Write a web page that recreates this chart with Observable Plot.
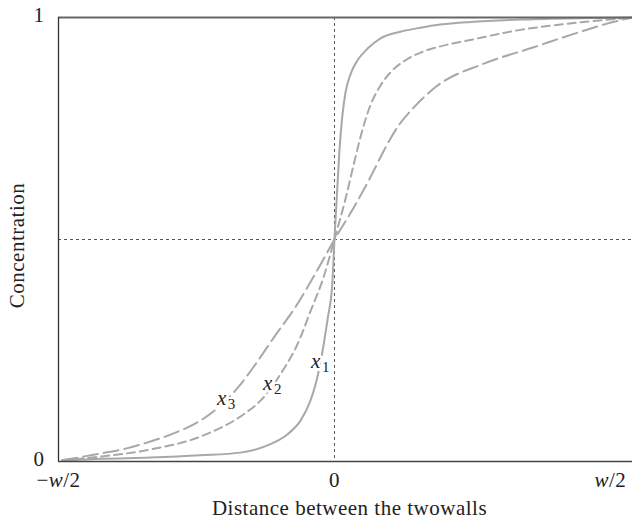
<!DOCTYPE html>
<html>
<head>
<meta charset="utf-8">
<script src="https://cdn.jsdelivr.net/npm/d3@7"></script>
<script src="https://cdn.jsdelivr.net/npm/@observablehq/plot@0.6"></script>
<style>
  body { margin: 0; background: #fff; }
  #chart svg { font-family: "Liberation Serif", "DejaVu Serif", serif; }
</style>
</head>
<body>
<div id="chart"></div>
<script>
// Concentration profiles across the channel; the walls sit at ±w/2 (±1),
// and the drawing area runs a little past the right wall.
const x1Pos  = [-0.986, -0.848, -0.667, -0.486, -0.341, -0.232, -0.171, -0.123, -0.087, -0.065, -0.039, -0.024, -0.008, 0, 0.009, 0.018, 0.028, 0.040, 0.058, 0.083, 0.120, 0.167, 0.239, 0.312, 0.384, 0.493, 0.721, 0.964, 1.08];
const x1Conc = [0.002, 0.006, 0.009, 0.014, 0.020, 0.039, 0.061, 0.092, 0.137, 0.182, 0.264, 0.324, 0.399, 0.5, 0.601, 0.700, 0.775, 0.831, 0.872, 0.903, 0.930, 0.953, 0.968, 0.977, 0.984, 0.990, 0.996, 0.999, 1];

const x2Pos  = [-0.986, -0.848, -0.667, -0.486, -0.330, -0.268, -0.185, -0.134, -0.087, -0.040, 0, 0.043, 0.069, 0.094, 0.130, 0.167, 0.210, 0.261, 0.312, 0.384, 0.482, 0.663, 0.844, 1.025, 1.08];
const x2Conc = [0.003, 0.011, 0.027, 0.056, 0.106, 0.137, 0.207, 0.264, 0.338, 0.414, 0.5, 0.599, 0.667, 0.730, 0.802, 0.847, 0.881, 0.905, 0.921, 0.935, 0.948, 0.971, 0.986, 0.997, 1];

const x3Pos  = [-0.986, -0.848, -0.757, -0.667, -0.576, -0.486, -0.413, -0.341, -0.292, -0.220, -0.135, -0.063, 0, 0.070, 0.130, 0.179, 0.227, 0.287, 0.370, 0.541, 0.722, 0.862, 0.975, 1.08];
const x3Conc = [0.003, 0.018, 0.029, 0.045, 0.065, 0.092, 0.126, 0.173, 0.214, 0.279, 0.354, 0.430, 0.5, 0.572, 0.640, 0.700, 0.752, 0.797, 0.845, 0.896, 0.933, 0.962, 0.984, 1];

// Curve labels (x with a subscript) and where they sit
const labelSubs = ["1", "2", "3"];
const labelPos  = [-0.067, -0.241, -0.408];
const labelConc = [0.225, 0.176, 0.142];

// Axis ticks
const xTicks = [-1, 0, 1];
const xTickLabels = ["\u2212w/2", "0", "w/2"];
const yTicks = [0, 1];
const yTickLabels = ["0", "1"];

const xLabel = "Distance between the twowalls";
const yLabel = "Concentration";

const series = [
  {pos: x1Pos, conc: x1Conc, dash: null},
  {pos: x2Pos, conc: x2Conc, dash: "8,5"},
  {pos: x3Pos, conc: x3Conc, dash: "15,6"}
];
const toRows = s => s.pos.map((p, i) => ({x: p, y: s.conc[i]}));
const labels = labelSubs.map((s, i) => ({x: labelPos[i], y: labelConc[i], sub: s}));
const xTickFmt = v => xTickLabels[xTicks.indexOf(v)];
const yTickFmt = v => yTickLabels[yTicks.indexOf(v)];

const curveColor = "#a8a8a8";
const ink = "#222";
const textStyle = {fontSize: 21, letterSpacing: "0.5px"};

const lineMarks = series.map(s => {
  const opts = {x: "x", y: "y", curve: "monotone-x", stroke: curveColor, strokeWidth: 2};
  if (s.dash) opts.strokeDasharray = s.dash;
  return Plot.line(toRows(s), opts);
});

const chart = Plot.plot({
  width: 632,
  height: 519,
  marginLeft: 58,
  marginRight: 0,
  marginTop: 17,
  marginBottom: 58,
  style: {fontFamily: '"Liberation Serif", serif', background: "#fff", letterSpacing: "0.5px"},
  x: {domain: [-1, 1.08]},
  y: {domain: [0, 1]},
  marks: [
    // reference lines through the centre
    Plot.ruleX([0], {stroke: "#555", strokeWidth: 1, strokeDasharray: "3,3"}),
    Plot.ruleY([0.5], {stroke: "#555", strokeWidth: 1, strokeDasharray: "3,3"}),
    // concentration profiles
    ...lineMarks,
    // frame: bottom, top and left edge
    Plot.ruleY([0], {stroke: "#444", strokeWidth: 1.5}),
    Plot.ruleY([1], {stroke: "#666", strokeWidth: 2}),
    Plot.ruleX([-1], {stroke: "#333", strokeWidth: 1.3}),
    // curve labels
    Plot.text(labels, {x: "x", y: "y", text: () => "x", fontStyle: "italic", fontSize: 21,
      fill: ink, stroke: "white", strokeWidth: 6, paintOrder: "stroke"}),
    Plot.text(labels, {x: "x", y: "y", text: "sub", fontSize: 15, dx: 10, dy: 6,
      fill: ink, stroke: "white", strokeWidth: 4, paintOrder: "stroke"}),
    // axes
    Plot.axisY(yTicks, {tickSize: 0, tickPadding: 14, fontSize: 21, dy: -2, tickFormat: yTickFmt, label: null, color: ink}),
    Plot.axisX(xTicks, {tickSize: 0, tickPadding: 11, fontSize: 21, tickFormat: xTickFmt, label: null, color: ink}),
    // axis titles
    Plot.text([xLabel], {frameAnchor: "bottom", textAnchor: "middle", lineAnchor: "middle", dx: 4, dy: 47, ...textStyle, fill: ink}),
    Plot.text([yLabel], {frameAnchor: "left", textAnchor: "middle", lineAnchor: "middle", rotate: -90, dx: -41, dy: 6, ...textStyle, fill: ink})
  ]
});

// set the w in the wall-position tick labels in italics
chart.querySelectorAll("text").forEach(t => {
  const s = t.textContent;
  if (s === "\u2212w/2" || s === "w/2") {
    t.textContent = "";
    const parts = s === "w/2" ? [["w", true], ["/2", false]] : [["\u2212", false], ["w", true], ["/2", false]];
    for (const [str, it] of parts) {
      const ts = document.createElementNS("http://www.w3.org/2000/svg", "tspan");
      ts.textContent = str;
      if (it) ts.setAttribute("font-style", "italic");
      t.appendChild(ts);
    }
  }
});

document.getElementById("chart").appendChild(chart);
</script>
</body>
</html>
